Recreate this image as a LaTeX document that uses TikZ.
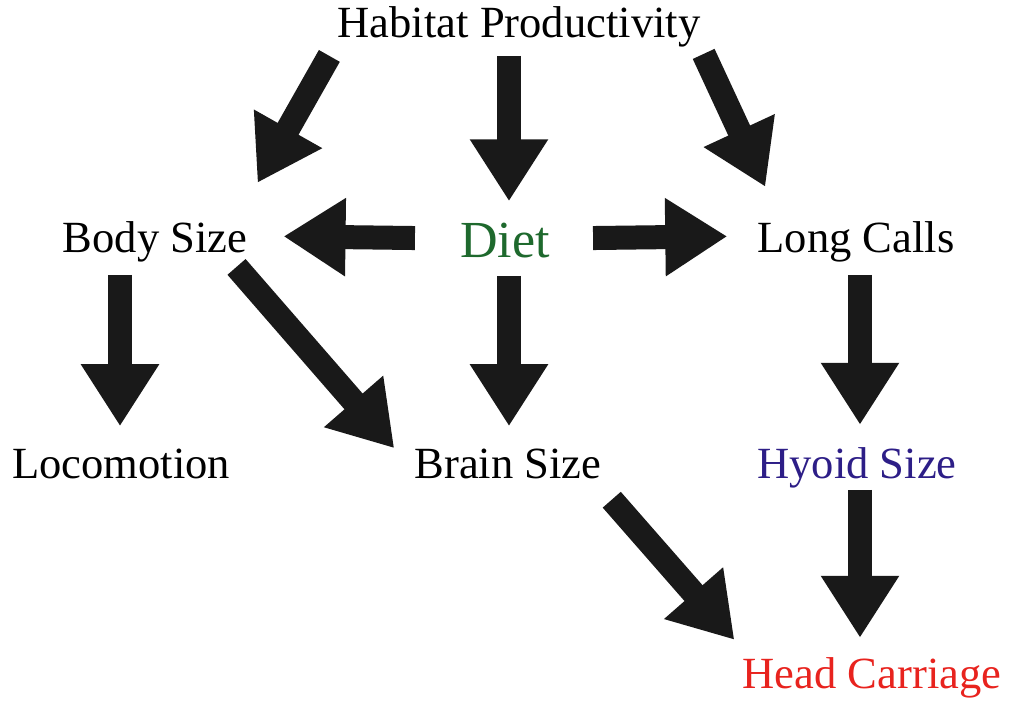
\documentclass[tikz,border=0pt]{standalone}
\usepackage{fontspec}
\setmainfont{Liberation Serif}
\usetikzlibrary{arrows.meta}
\definecolor{dietgreen}{RGB}{30,105,45}
\definecolor{hyoidblue}{RGB}{45,30,135}
\definecolor{headred}{RGB}{232,35,30}
\begin{document}
\begin{tikzpicture}[x=0.025cm,y=-0.025cm,line join=miter,
            var/.style={anchor=base,inner sep=0pt,font=\fontsize{31.7}{38}\selectfont},
            causal/.style={draw=black!90,line width=0.6cm,
                -{Triangle[length=1.55cm,width=1.85cm]}}]
            \useasboundingbox (0,0) rectangle (1009,700);
            \node[var] (hp) at (519,37) {Habitat Productivity};
            \node[var] (body) at (155,252) {Body Size};
            \node[var,text=dietgreen,font=\fontsize{37}{44}\selectfont] (diet) at (505,257) {Diet};
            \node[var] (long) at (856,252) {Long Calls};
            \node[var] (loco) at (121,478) {Locomotion};
            \node[var] (brain) at (508,478) {Brain Size};
            \node[var,text=hyoidblue] (hyoid) at (857,478) {Hyoid Size};
            \node[var,text=headred] (head) at (872,688) {Head Carriage};
            % habitat productivity
            \draw[causal] ([shift={(-8,9)}]hp.south west) -- ([shift={(10,-38)}]body.north east);
            \draw[causal] ([shift={(-10,9)}]hp.south) -- ([shift={(4,-21)}]diet.north);
            \draw[causal] ([shift={(3,7)}]hp.south east) -- ([shift={(8,-34)}]long.north west);
            % diet
            \draw[causal] ([shift={(-45,-2)}]diet.west) -- ([shift={(36,-5)}]body.east);
            \draw[causal] ([shift={(43,-2)}]diet.east) -- ([shift={(-30,-5)}]long.west);
            \draw[causal] ([shift={(4,18)}]diet.south) -- ([shift={(1,-22)}]brain.north);
            % second row
            \draw[causal] ([shift={(-35,13)}]body.south) -- ([shift={(-1,-22)}]loco.north);
            \draw[causal] ([shift={(-11,5)}]body.south east) -- ([shift={(-20,0)}]brain.north west);
            \draw[causal] ([shift={(4,13)}]long.south) -- ([shift={(3,-22)}]hyoid.north);
            % head carriage
            \draw[causal] ([shift={(10,21)}]brain.south east) -- ([shift={(-8,-17)}]head.north west);
            \draw[causal] ([shift={(3,2)}]hyoid.south) -- ([shift={(-12,-19)}]head.north);
\end{tikzpicture}
\end{document}
